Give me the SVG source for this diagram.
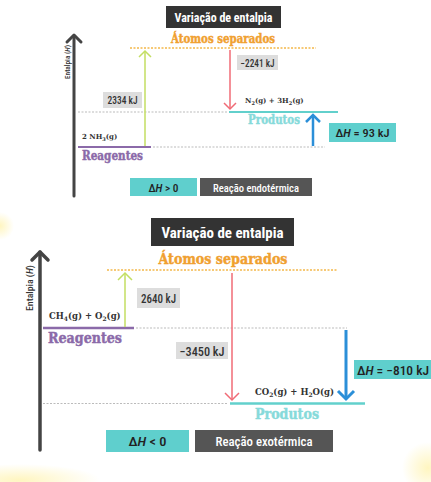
<svg xmlns="http://www.w3.org/2000/svg" width="431" height="482" viewBox="0 0 431 482">
<defs>
<radialGradient id="glow"><stop offset="0" stop-color="#fff3b0" stop-opacity="0.8"/><stop offset="1" stop-color="#fff3b0" stop-opacity="0"/></radialGradient>
<style>
.cond{font-family:"Roboto Condensed","Liberation Sans Narrow","Roboto","Liberation Sans",sans-serif;font-weight:bold}
.lab{font-family:"Roboto Condensed","Liberation Sans Narrow","Roboto","Liberation Sans",sans-serif;font-weight:500}
.slab{font-family:"DejaVu Serif","Liberation Serif",serif;font-weight:bold}
.head{stroke-width:0.45;paint-order:stroke}
.axis{stroke:#444;fill:none;stroke-linecap:round;stroke-linejoin:round}
.dash{stroke:#bbb;stroke-dasharray:2 1.5;fill:none}
.orange{stroke:#f3b84a;stroke-dasharray:2 1.5;fill:none}
.green{stroke:#c3de62;fill:none}
.red{stroke:#f06b76;fill:none}
.blue{stroke:#2b8fd8;fill:none}
.purple{stroke:#8b6aa9}
.cyan{stroke:#62d0cc}
.gbox{fill:#dddddd}
.cbox{fill:#5fcfcd}
.dbox{fill:#555555}
.tbox{fill:#333333}
</style>
</defs>
<rect width="431" height="482" fill="#ffffff"/>
<ellipse cx="0" cy="226" rx="14" ry="14" fill="url(#glow)"/>
<ellipse cx="20" cy="480" rx="80" ry="16" fill="url(#glow)"/>
<ellipse cx="428" cy="468" rx="26" ry="26" fill="url(#glow)"/>

<!-- TOP DIAGRAM -->
<g id="top-title">
<rect class="tbox" x="166" y="6" width="115" height="22"/>
<text class="cond" x="223.5" y="22" font-size="12" fill="#fff" text-anchor="middle" textLength="98" lengthAdjust="spacingAndGlyphs">Variação de entalpia</text>
</g>
<g id="top-atoms">
<text class="slab head" x="223" y="43" font-size="12" fill="#f0a030" stroke="#f0a030" text-anchor="middle" textLength="104" lengthAdjust="spacingAndGlyphs">Átomos separados</text>
</g>
<g id="top-axis">
<line class="axis" x1="74" y1="196" x2="74" y2="36" stroke-width="3"/>
<polyline class="axis" points="67,42 74,35 81,42" stroke-width="3"/>
<text class="lab" transform="translate(69.5,62) rotate(-90)" font-size="7" fill="#333" text-anchor="middle" textLength="34" lengthAdjust="spacingAndGlyphs">Entalpia (<tspan font-style="italic">H</tspan>)</text>
</g>
<g id="top-reagents">
<line class="purple" x1="78" y1="147" x2="151" y2="147" stroke-width="2"/>
<text class="slab" x="82" y="139" font-size="7" fill="#333">2 NH<tspan font-size="5" dy="1.5">3</tspan><tspan dy="-1.5">(g)</tspan></text>
<text class="slab head" x="82" y="160" font-size="12" fill="#8b6aa9" stroke="#8b6aa9" textLength="61" lengthAdjust="spacingAndGlyphs">Reagentes</text>
</g>
<g id="top-products">
<line class="cyan" x1="229" y1="112" x2="338" y2="112" stroke-width="2"/>
<text class="slab" x="245" y="103" font-size="7" fill="#333">N<tspan font-size="5" dy="1.5">2</tspan><tspan dy="-1.5">(g) + 3H</tspan><tspan font-size="5" dy="1.5">2</tspan><tspan dy="-1.5">(g)</tspan></text>
<text class="slab head" x="274" y="124" font-size="12" fill="#86dada" stroke="#86dada" text-anchor="middle" textLength="52" lengthAdjust="spacingAndGlyphs">Produtos</text>
</g>
<g id="top-e-in">
<rect class="gbox" x="103" y="92" width="39" height="16"/>
<text class="lab" x="122.5" y="104" font-size="10" fill="#333" text-anchor="middle" textLength="30" lengthAdjust="spacingAndGlyphs">2334 kJ</text>
</g>
<g id="top-e-out">
<rect class="gbox" x="237" y="55" width="41" height="15"/>
<text class="lab" x="257.5" y="66.5" font-size="10" fill="#333" text-anchor="middle" textLength="34" lengthAdjust="spacingAndGlyphs">−2241 kJ</text>
</g>
<g id="top-dh">
<rect class="cbox" x="329" y="123" width="67" height="19"/>
<text class="lab" x="362.5" y="137" font-size="11" fill="#222" text-anchor="middle" textLength="54" lengthAdjust="spacingAndGlyphs">Δ<tspan font-style="italic">H</tspan> =  93 kJ</text>
</g>
<g id="top-sign">
<rect class="cbox" x="130" y="178" width="67" height="18"/>
<text class="lab" x="163.5" y="191.5" font-size="11" fill="#222" text-anchor="middle" textLength="30" lengthAdjust="spacingAndGlyphs">Δ<tspan font-style="italic">H</tspan> &gt; 0</text>
</g>
<g id="top-type">
<rect class="dbox" x="200" y="178" width="112" height="18"/>
<text class="lab" x="256" y="191.5" font-size="11" fill="#fff" text-anchor="middle" textLength="86" lengthAdjust="spacingAndGlyphs">Reação endotérmica</text>
</g>
<g id="top-connectors">
<line class="orange" x1="130" y1="48" x2="316" y2="48" stroke-width="1.5"/>
<line class="dash" x1="78" y1="112" x2="228" y2="112" stroke-width="1"/>
<line class="dash" x1="153" y1="147" x2="325" y2="147" stroke-width="1"/>
<line class="green" x1="145" y1="146" x2="145" y2="51" stroke-width="1.5"/>
<polyline class="green" points="139,57 145,51 151,57" stroke-width="1.5"/>
<line class="red" x1="230" y1="50" x2="230" y2="109" stroke-width="1.5"/>
<polyline class="red" points="224,103 230,109 236,103" stroke-width="1.5"/>
<line class="blue" x1="313" y1="146" x2="313" y2="115" stroke-width="2.5"/>
<polyline class="blue" points="306,122 313,115 320,122" stroke-width="2.5"/>
</g>

<!-- BOTTOM DIAGRAM -->
<g id="bot-title">
<rect class="tbox" x="151" y="218" width="143" height="28"/>
<text class="cond" x="222.5" y="238" font-size="15" fill="#fff" text-anchor="middle" textLength="122" lengthAdjust="spacingAndGlyphs">Variação de entalpia</text>
</g>
<g id="bot-atoms">
<text class="slab head" x="223" y="264" font-size="14.5" fill="#f0a030" stroke="#f0a030" text-anchor="middle" textLength="129" lengthAdjust="spacingAndGlyphs">Átomos separados</text>
</g>
<g id="bot-axis">
<line class="axis" x1="40" y1="450" x2="40" y2="252" stroke-width="3.5"/>
<polyline class="axis" points="32,260 40,252 48,260" stroke-width="3.5"/>
<text class="lab" transform="translate(32.5,288) rotate(-90)" font-size="8.5" fill="#333" text-anchor="middle" textLength="46" lengthAdjust="spacingAndGlyphs">Entalpia (<tspan font-style="italic">H</tspan>)</text>
</g>
<g id="bot-reagents">
<line class="purple" x1="43" y1="328" x2="134" y2="328" stroke-width="2.5"/>
<text class="slab" x="49" y="319" font-size="8.5" fill="#333">CH<tspan font-size="6" dy="2">4</tspan><tspan dy="-2">(g) + O</tspan><tspan font-size="6" dy="2">2</tspan><tspan dy="-2">(g)</tspan></text>
<text class="slab head" x="48" y="343" font-size="14" fill="#8b6aa9" stroke="#8b6aa9" textLength="74" lengthAdjust="spacingAndGlyphs">Reagentes</text>
</g>
<g id="bot-products">
<line class="cyan" x1="230" y1="403.5" x2="365" y2="403.5" stroke-width="2.5"/>
<text class="slab" x="255" y="395" font-size="8.5" fill="#333">CO<tspan font-size="6" dy="2">2</tspan><tspan dy="-2">(g) + H</tspan><tspan font-size="6" dy="2">2</tspan><tspan dy="-2">O(g)</tspan></text>
<text class="slab head" x="287" y="419" font-size="14" fill="#86dada" stroke="#86dada" text-anchor="middle" textLength="64" lengthAdjust="spacingAndGlyphs">Produtos</text>
</g>
<g id="bot-e-in">
<rect class="gbox" x="137" y="288" width="43" height="20"/>
<text class="lab" x="158.5" y="302.5" font-size="12" fill="#333" text-anchor="middle" textLength="35" lengthAdjust="spacingAndGlyphs">2640 kJ</text>
</g>
<g id="bot-e-out">
<rect class="gbox" x="176" y="342" width="52" height="17"/>
<text class="lab" x="202" y="355.5" font-size="12" fill="#333" text-anchor="middle" textLength="45" lengthAdjust="spacingAndGlyphs">−3450 kJ</text>
</g>
<g id="bot-dh">
<rect class="cbox" x="354" y="360" width="80" height="19"/>
<text class="lab" x="357" y="374.5" font-size="12" fill="#222" textLength="72" lengthAdjust="spacingAndGlyphs">Δ<tspan font-style="italic">H</tspan> =  −810 kJ</text>
</g>
<g id="bot-sign">
<rect class="cbox" x="106" y="430" width="83" height="22"/>
<text class="lab" x="147.5" y="446" font-size="13" fill="#222" text-anchor="middle" textLength="38" lengthAdjust="spacingAndGlyphs">Δ<tspan font-style="italic">H</tspan> &lt; 0</text>
</g>
<g id="bot-type">
<rect class="dbox" x="195" y="430" width="138" height="22"/>
<text class="lab" x="264" y="446" font-size="13" fill="#fff" text-anchor="middle" textLength="97" lengthAdjust="spacingAndGlyphs">Reação exotérmica</text>
</g>
<g id="bot-connectors">
<line class="orange" x1="107" y1="270" x2="338" y2="270" stroke-width="1.5"/>
<line class="dash" x1="136" y1="328" x2="347" y2="328" stroke-width="1"/>
<line class="dash" x1="43" y1="403.5" x2="228" y2="403.5" stroke-width="1"/>
<line class="green" x1="125" y1="327" x2="125" y2="273" stroke-width="1.5"/>
<polyline class="green" points="118,280 125,273 132,280" stroke-width="1.5"/>
<line class="red" x1="232" y1="273" x2="232" y2="400" stroke-width="1.5"/>
<polyline class="red" points="225,393 232,400 239,393" stroke-width="1.5"/>
<line class="blue" x1="346" y1="330" x2="346" y2="399" stroke-width="3"/>
<polyline class="blue" points="338,391 346,399 354,391" stroke-width="3"/>
</g>
</svg>
